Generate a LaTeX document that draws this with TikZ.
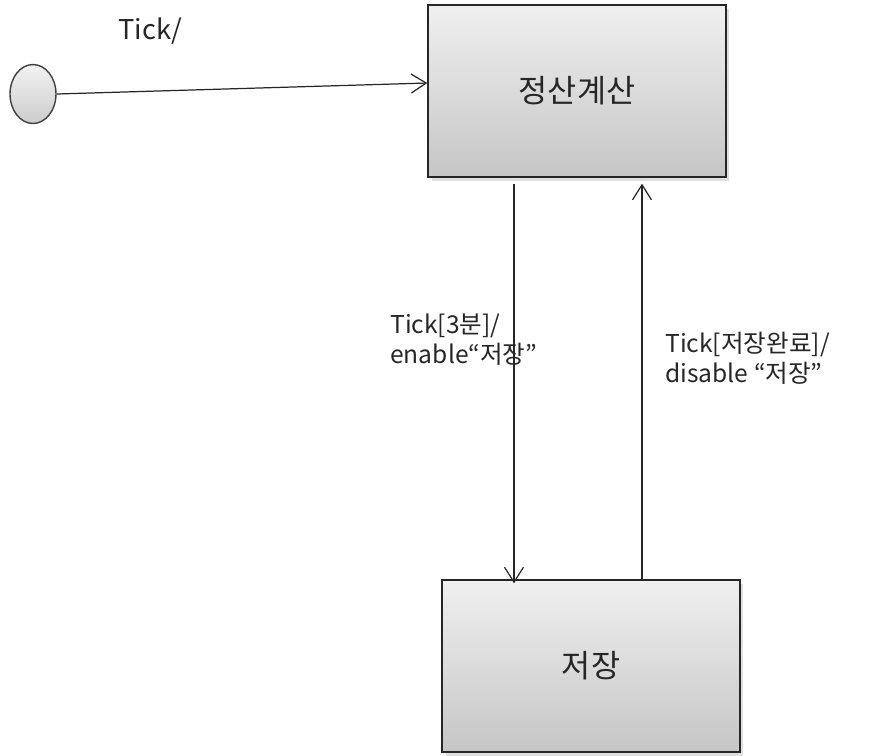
\documentclass[tikz,border=0pt]{standalone}
\usepackage{fontspec}
\setmainfont{Noto Sans CJK KR}
\usetikzlibrary{arrows.meta,shapes.geometric,shadows}

\begin{document}
\begin{tikzpicture}[x=0.02cm, y=-0.02cm, >={Straight Barb[length=3mm,width=3.8mm]},
    font=\fontsize{14}{17}\selectfont, text=black!85]
  \tikzset{
    state/.style={draw=black!85, line width=0.8pt, minimum width=5.96cm, minimum height=3.44cm,
      top color=gray!12, bottom color=gray!45, font=\fontsize{18}{22}\selectfont,
      drop shadow={shadow xshift=2pt, shadow yshift=-2pt, opacity=0.25}},
    start/.style={ellipse, draw=black!75, line width=0.8pt, minimum width=0.92cm, minimum height=1.18cm,
      inner sep=0pt, top color=gray!10, bottom color=gray!40},
    trans/.style={->, line width=0.7pt, draw=black!85},
    lbl/.style={align=left, inner sep=0pt}
  }
  \useasboundingbox (0,0) rectangle (873,755);

  % states
  \node[start] (init) at (33,94) {};
  \node[state] (calc) at (577,91) {정산계산};
  \node[state] (save) at (591,666) {저장};

  % transitions
  \draw[trans] (init.east) -- ([yshift=0.16cm]calc.west);
  \node[lbl, anchor=west, font=\fontsize{15.5}{18}\selectfont] (tick) at (118,31) {Tick/};

  \draw[trans, shorten >=0.04cm] ([shift={(-63,6)}]calc.south) -- ([shift={(-63,6)}]calc.south |- save.north);
  \node[lbl, anchor=north west] (tostore) at (390,314) {Tick[3분]/\\enable“저장”};

  \draw[trans, shorten >=0.12cm] ([shift={(51,0)}]save.north) -- ([shift={(51,0)}]save.north |- calc.south);
  \node[lbl, anchor=north west] (backcalc) at (665,332) {Tick[저장완료]/\\disable “저장”};
\end{tikzpicture}
\end{document}
